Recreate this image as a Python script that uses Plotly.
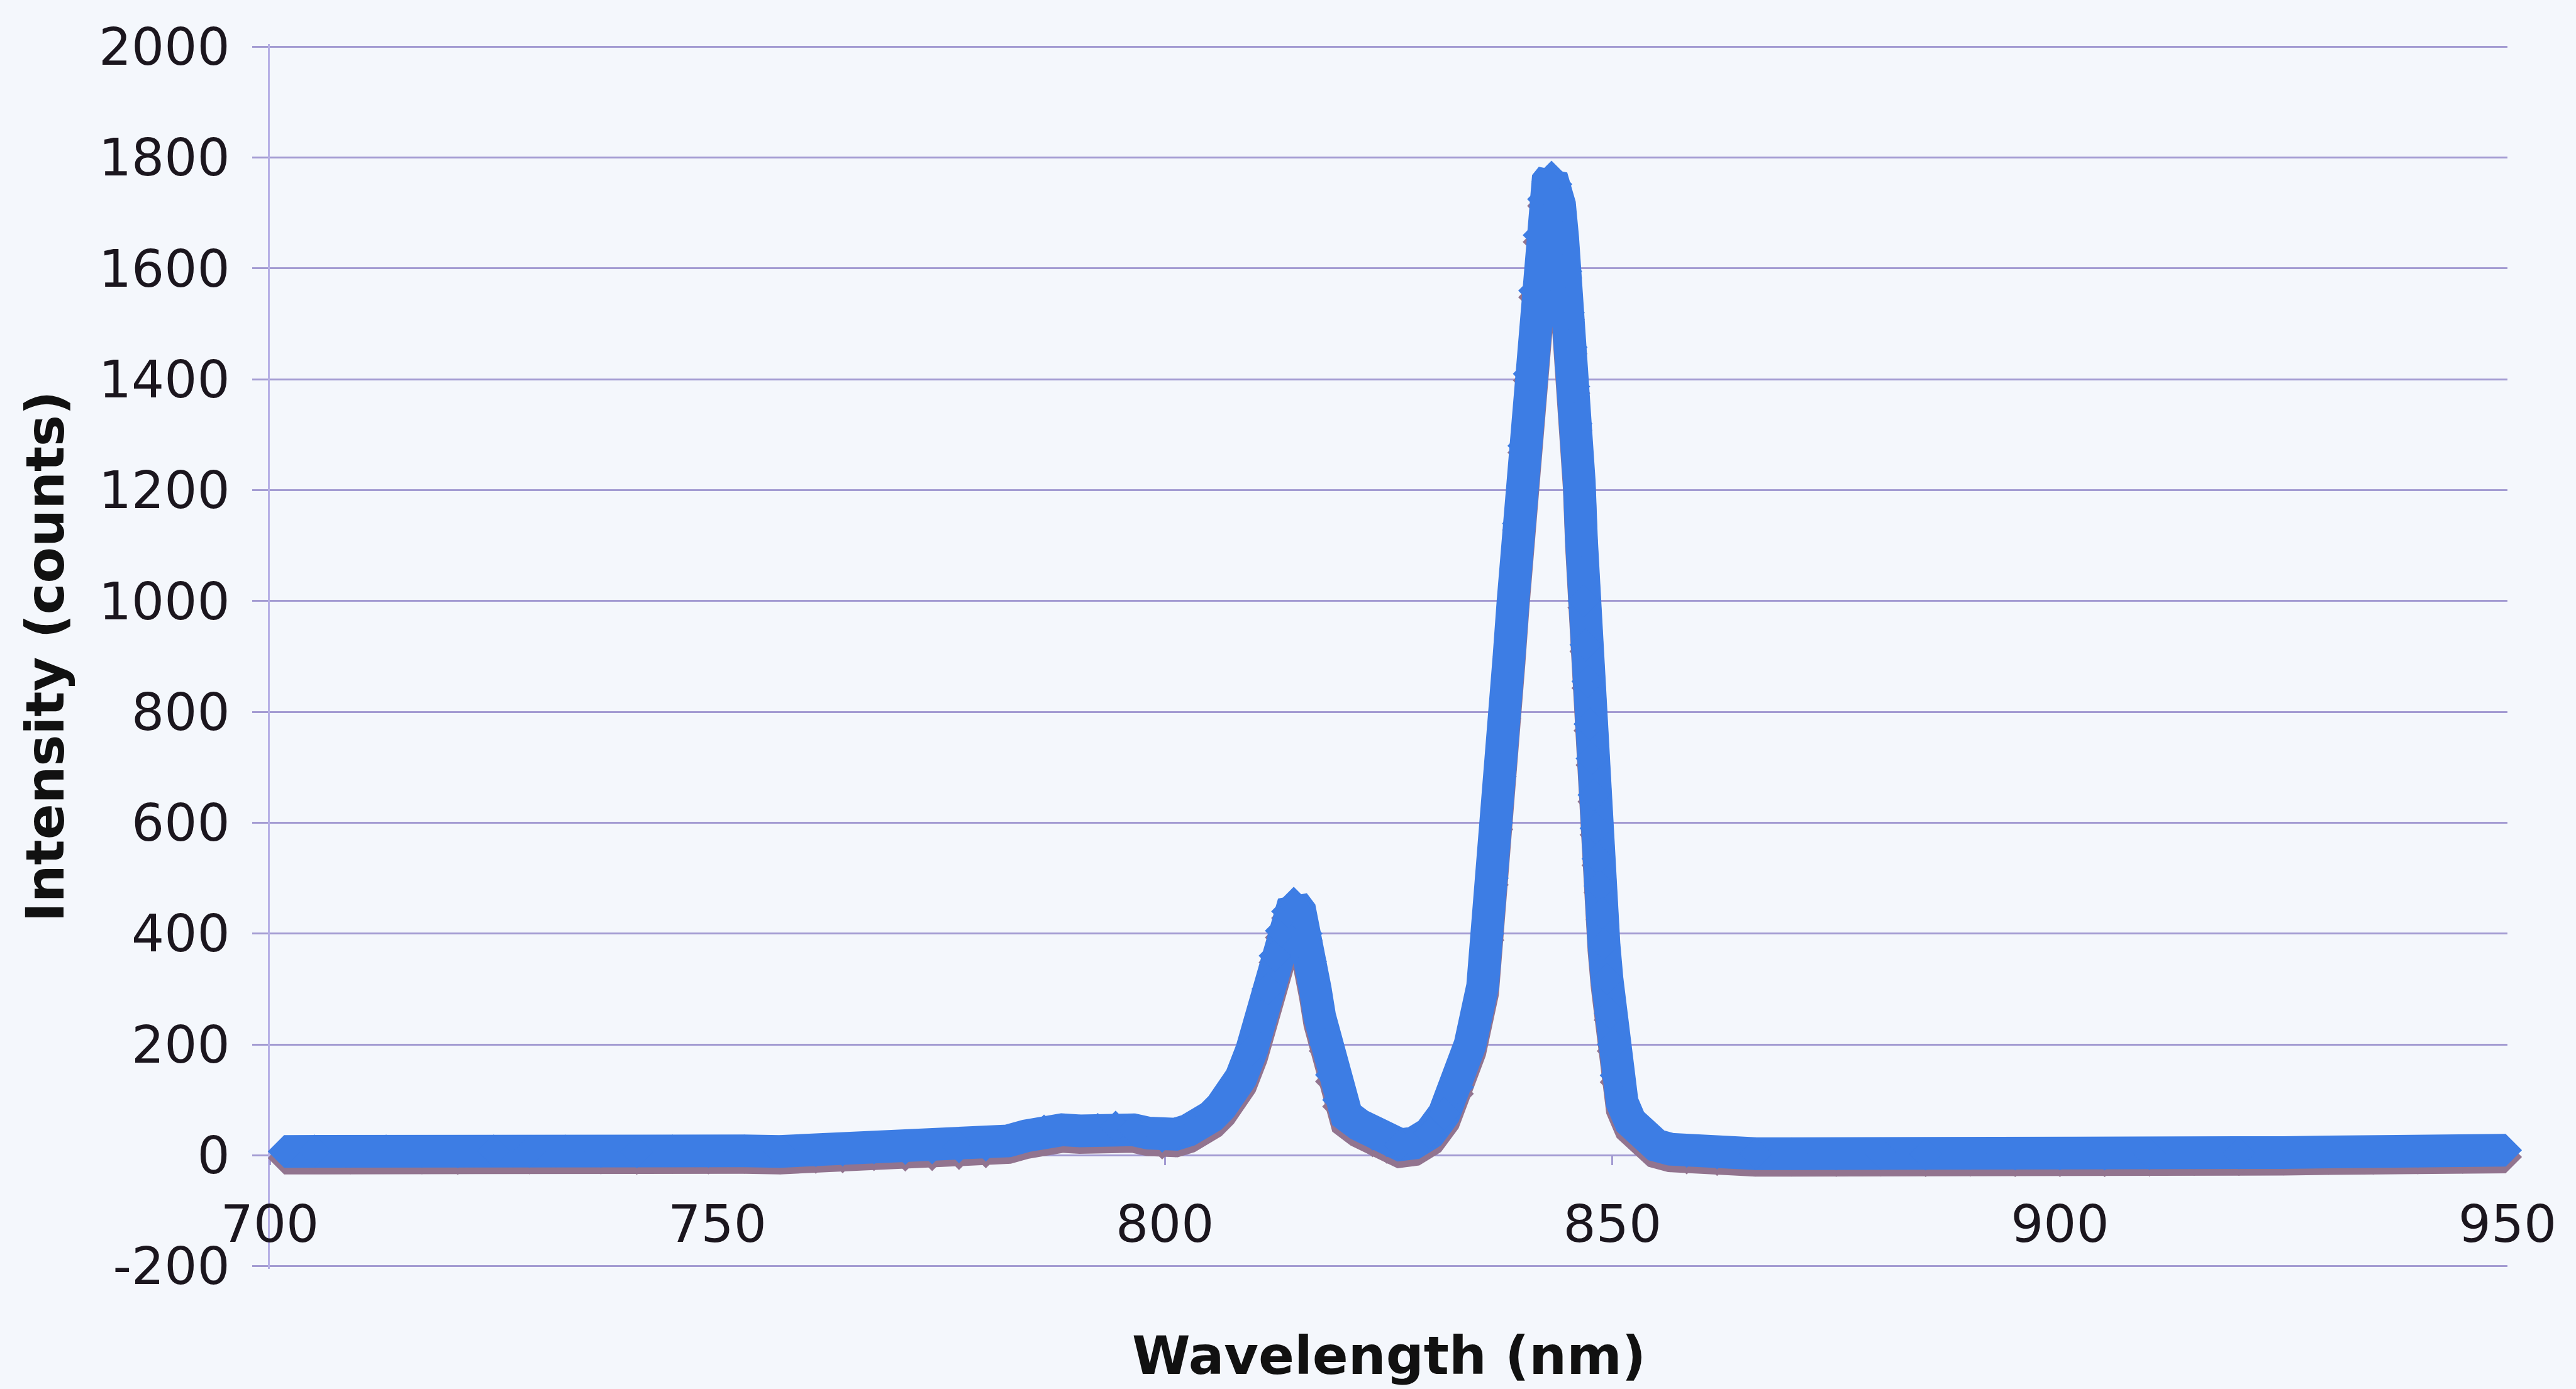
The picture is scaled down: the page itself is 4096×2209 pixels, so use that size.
import plotly.graph_objects as go

# Emission spectrum: wavelength (nm) and detector intensity (counts)
wavelength_nm = [
    701.6, 705, 709, 713, 717, 721, 725, 729, 733, 737, 741, 745, 749, 753, 757, 761, 764,
    767.5, 771, 774, 777, 780, 782.5, 784.5, 786.5, 788.5, 790.5, 792.5, 794.5, 796.5,
    798.2, 799.7, 801.2, 802.6, 804, 805.2, 806.3, 807.4, 808.5, 809.7, 810.7, 811.5,
    812.3, 813.0, 813.7, 814.4, 815.1, 815.8, 816.3, 816.8, 817.3, 817.9, 818.6, 819.4,
    820.3, 821.7, 823.2, 824.8, 826.3, 827.8, 829.6, 831.2, 832.7, 834.1, 835.5, 836.1,
    836.6, 837.1, 837.5, 838.0, 838.45, 838.9, 839.5, 840.1, 840.7, 841.3, 841.8, 842.3,
    842.8, 843.2, 843.7, 844.1, 844.45, 844.8, 845.1, 845.4, 845.7, 845.95, 846.3, 846.55,
    846.8, 847.03, 847.25, 847.48, 847.71, 847.93, 848.16, 848.38, 848.61, 848.83, 849.06,
    849.4, 849.74, 850.08, 850.41, 851.1, 852.0, 853.1, 854.9, 856.5, 858.3, 861.7, 866,
    870, 875, 880, 885, 890, 895, 900, 905, 910, 915, 920, 925, 930, 935, 940, 945, 949.8,
]
intensity_counts = [
    7, 8, 7, 8, 7, 6, 8, 7, 8, 7, 6, 8, 7, 8, 7, 8, 9,
    13, 12, 13, 15, 18, 26, 35, 44, 46, 44, 47, 51, 46,
    40, 34, 38, 45, 55, 70, 88, 108, 140, 190, 250, 300,
    360, 405, 440, 455, 440, 400, 350, 300, 250, 200, 145, 100,
    72, 55, 38, 26, 19, 22, 40, 75, 123, 200, 305, 400,
    500, 600, 695, 800, 900, 1000, 1140, 1280, 1410, 1560, 1660, 1725,
    1757, 1765, 1752, 1715, 1655, 1595, 1520, 1458, 1387, 1320, 1215, 1110,
    1000, 921, 855, 778, 716, 650, 590, 535, 486, 437, 381,
    318, 256, 200, 144, 95, 61, 36, 18, 11, 7, 4, 3,
    3, 2, 3, 2, 3, 2, 2, 2, 3, 4, 4, 5, 6, 6, 7, 8, 9,
]

x_ticks = [700, 750, 800, 850, 900, 950]
y_ticks = [-200, 0, 200, 400, 600, 800, 1000, 1200, 1400, 1600, 1800, 2000]

# a little headroom so the -200 and 2000 gridlines are kept at the plot edges
X_RANGE = [700, 950]
Y_RANGE = [-205, 2005]
SHADOW_SHIFT = 12  # counts: the shadow copy sits this far below the blue series

BLUE = "#3d7de4"
SHADOW = "#92748f"
GRID = "#a39bd2"
AXIS = "#b6b0e6"
TEXT = "#1b161e"
BG = "#f4f7fc"
FONT = "DejaVu Sans"


def series(color, yaxis):
    return go.Scatter(
        x=wavelength_nm,
        y=intensity_counts,
        mode="lines+markers",
        line=dict(color=color, width=52),
        marker=dict(symbol="diamond", size=40, color=color, line=dict(width=0)),
        yaxis=yaxis,
        cliponaxis=False,
        hoverinfo="skip",
        showlegend=False,
    )


# shadow on the base (hidden, shifted) axis; blue series on the visible overlay axis
fig = go.Figure([series(SHADOW, "y"), series(BLUE, "y2")])

zero_pos = (0 - Y_RANGE[0]) / (Y_RANGE[1] - Y_RANGE[0])

fig.update_layout(
    width=4096,
    height=2209,
    margin=dict(l=429, r=109, t=70, b=191, pad=0),
    paper_bgcolor=BG,
    plot_bgcolor=BG,
    font=dict(family=FONT, color=TEXT),
    xaxis=dict(
        range=X_RANGE,
        tickmode="array",
        tickvals=x_ticks,
        ticktext=[str(v) for v in x_ticks],
        ticks="outside",
        ticklen=14,
        tickwidth=2.5,
        tickcolor=GRID,
        showgrid=False,
        zeroline=False,
        showline=True,
        linecolor=GRID,
        linewidth=2.5,
        anchor="free",
        position=zero_pos,
        tickfont=dict(family=FONT, size=82, color=TEXT),
        ticklabelstandoff=24,
        layer="below traces",
    ),
    yaxis=dict(
        range=[Y_RANGE[0] + SHADOW_SHIFT, Y_RANGE[1] + SHADOW_SHIFT],
        visible=False,
    ),
    yaxis2=dict(
        overlaying="y",
        side="left",
        anchor="x",
        range=Y_RANGE,
        tickmode="array",
        tickvals=y_ticks,
        ticktext=[str(v) for v in y_ticks],
        ticks="outside",
        ticklen=25,
        tickwidth=2.5,
        tickcolor=GRID,
        showgrid=True,
        gridcolor=GRID,
        gridwidth=3,
        zeroline=False,
        showline=True,
        linecolor=AXIS,
        linewidth=3,
        tickfont=dict(family=FONT, size=82, color=TEXT),
        ticklabelstandoff=19,
        layer="below traces",
    ),
    annotations=[
        dict(
            text="<b>Wavelength (nm)</b>",
            xref="paper", yref="paper",
            x=0.5, y=-0.071,
            xanchor="center", yanchor="middle",
            showarrow=False,
            font=dict(family=FONT, size=84, color="#111111"),
        ),
        dict(
            text="<b>Intensity (counts)</b>",
            xref="paper", yref="paper",
            x=-0.1002, y=0.5,
            xanchor="center", yanchor="middle",
            textangle=-90,
            showarrow=False,
            font=dict(family=FONT, size=84, color="#111111"),
        ),
    ],
)

fig.write_html("out.html")
